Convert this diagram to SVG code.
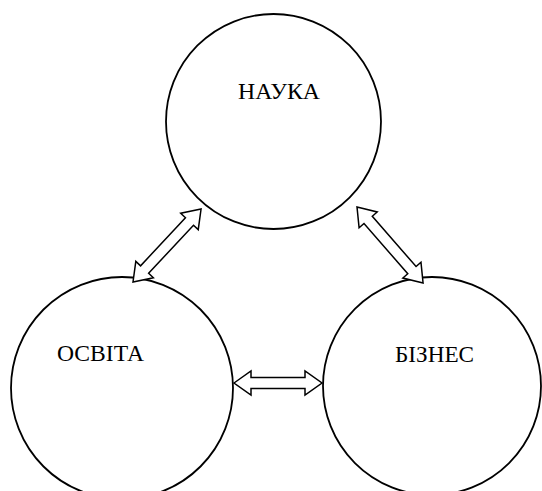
<svg xmlns="http://www.w3.org/2000/svg" width="542" height="491" viewBox="0 0 542 491">
<defs>
<style>
.node circle{fill:#fff;stroke:#000;stroke-width:1.8}
.lbl{font-family:"Liberation Serif","Times New Roman",serif;font-size:23px;fill:#000}
.arr{fill:#fff;stroke:#000;stroke-width:1.5;stroke-linejoin:miter}
</style>
</defs>
<rect width="542" height="491" fill="#fff"/>
<g id="nauka" class="node">
<circle cx="273.5" cy="121.5" r="107.5"/>
<text class="lbl" x="238" y="99" textLength="82" lengthAdjust="spacingAndGlyphs">НАУКА</text>
</g>
<g id="osvita" class="node">
<circle cx="122" cy="388" r="111"/>
<text class="lbl" x="57" y="361" textLength="87" lengthAdjust="spacingAndGlyphs">ОСВІТА</text>
</g>
<g id="biznes" class="node">
<circle cx="432" cy="386" r="109"/>
<text class="lbl" x="395" y="362" textLength="79" lengthAdjust="spacingAndGlyphs">БІЗНЕС</text>
</g>
<g id="connectors">
<polygon class="arr" transform="translate(133,282) rotate(-47)" points="0,0 17,-12 17,-5.5 82.8,-5.5 82.8,-12 99.8,0 82.8,12 82.8,5.5 17,5.5 17,12"/>
<polygon class="arr" transform="translate(357,207) rotate(49)" points="0,0 17,-12 17,-5.5 83.7,-5.5 83.7,-12 100.7,0 83.7,12 83.7,5.5 17,5.5 17,12"/>
<polygon class="arr" transform="translate(234,383)" points="0,0 17,-12 17,-5.5 71,-5.5 71,-12 88,0 71,12 71,5.5 17,5.5 17,12"/>
</g>
</svg>
